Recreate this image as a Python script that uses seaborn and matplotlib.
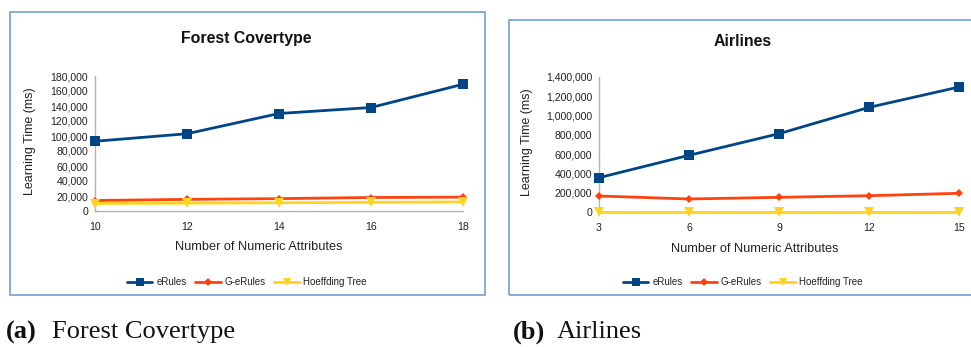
import matplotlib
matplotlib.use("Agg")
import matplotlib.pyplot as plt
import matplotlib.ticker as mticker
from matplotlib.patches import Rectangle
from matplotlib.lines import Line2D
import pandas as pd
import seaborn as sns

# Forest Covertype: learning time (ms) per number of numeric attributes
forest_attrs = [10, 12, 14, 16, 18]
forest_erules = [93000, 103000, 130000, 138000, 169000]
forest_gerules = [14000, 15500, 16500, 18000, 18500]
forest_hoeffding = [10000, 10500, 11000, 11500, 12000]

# Airlines: learning time (ms) per number of numeric attributes
airlines_attrs = [3, 6, 9, 12, 15]
airlines_erules = [356000, 588000, 812000, 1085000, 1296000]
airlines_gerules = [166000, 135000, 152000, 169000, 194000]
airlines_hoeffding = [5000, 5000, 5000, 5000, 5000]

series_names = ["eRules", "G-eRules", "Hoeffding Tree"]
palette = {"eRules": "#004586", "G-eRules": "#ff420e", "Hoeffding Tree": "#ffd320"}
markers = {"eRules": "s", "G-eRules": "D", "Hoeffding Tree": "v"}
marker_sizes = {"eRules": 7, "G-eRules": 4.5, "Hoeffding Tree": 7}

sns.set_theme(style="white")
plt.rcParams["font.family"] = ["Liberation Sans", "DejaVu Sans"]

W, H = 971, 347
fig = plt.figure(figsize=(W / 100, H / 100), dpi=100)


def fx(px):
    return px / W


def fy(py):
    return 1 - py / H


def panel_frame(x0, y0, x1, y1):
    fig.patches.append(Rectangle((fx(x0), fy(y1)), fx(x1) - fx(x0), fy(y0) - fy(y1),
                                 transform=fig.transFigure, fill=False,
                                 edgecolor="#729fcf", linewidth=1.2, zorder=0))


def to_long(attrs, values):
    rows = []
    for name, vals in zip(series_names, values):
        for a, v in zip(attrs, vals):
            rows.append({"attrs": a, "time": v, "series": name})
    return pd.DataFrame(rows)


def draw_panel(rect, attrs, values, ymax, ystep, title, title_xy, ylab_x, xlab_xy, leg_xy):
    x0, y0, x1, y1 = rect
    ax = fig.add_axes([fx(x0), fy(y1), fx(x1) - fx(x0), fy(y0) - fy(y1)])
    df = to_long(attrs, values)
    for name in series_names:
        sub = df[df["series"] == name]
        sns.lineplot(data=sub, x="attrs", y="time", ax=ax, color=palette[name],
                     marker=markers[name], markersize=marker_sizes[name],
                     markeredgewidth=0, linewidth=2, legend=False,
                     clip_on=False, zorder=3)
    ax.set_xlim(attrs[0], attrs[-1])
    ax.set_ylim(0, ymax)
    ax.set_xticks(attrs)
    ax.yaxis.set_major_locator(mticker.MultipleLocator(ystep))
    ax.yaxis.set_major_formatter(mticker.StrMethodFormatter("{x:,.0f}"))
    for s in ["top", "right"]:
        ax.spines[s].set_visible(False)
    for s in ["left", "bottom"]:
        ax.spines[s].set_color("#b3b3b3")
        ax.spines[s].set_linewidth(1)
        ax.spines[s].set_zorder(1)
    ax.tick_params(axis="both", which="major", direction="out", length=3, width=0.8,
                   color="#b3b3b3", labelsize=7.6, labelcolor="#222222", pad=2)
    ax.tick_params(axis="x", pad=5)
    ax.set_xlabel("")
    ax.set_ylabel("")
    ax.set_facecolor("none")
    fig.text(fx(title_xy[0]), fy(title_xy[1]), title, ha="center", va="center",
             fontsize=11.4, fontweight="bold", color="#111111")
    fig.text(fx(ylab_x), fy((y0 + y1) / 2 - 2), "Learning Time (ms)", rotation=90,
             ha="center", va="center", fontsize=9, color="#222222")
    fig.text(fx(xlab_xy[0]), fy(xlab_xy[1]), "Number of Numeric Attributes",
             ha="center", va="center", fontsize=9.2, color="#222222")
    # Legend keys: line with a smaller marker in the middle
    handles = [Line2D([], [], color=palette[n], marker=markers[n],
                      markersize=marker_sizes[n] * 0.8, markeredgewidth=0, linewidth=2)
               for n in series_names]
    fig.legend(handles, series_names, loc="center",
               bbox_to_anchor=(fx(leg_xy[0]), fy(leg_xy[1])),
               ncol=3, frameon=False, fontsize=7, handlelength=2.6, handletextpad=0.4,
               columnspacing=0.9, labelcolor="#222222")
    return ax


panel_frame(9.5, 12, 485, 295)
panel_frame(509, 20, 985, 295)

draw_panel((95, 76, 463, 211), forest_attrs,
           [forest_erules, forest_gerules, forest_hoeffding],
           180000, 20000, "Forest Covertype", (246, 39), 30, (259, 247), (247, 282))
draw_panel((599, 77, 959, 212), airlines_attrs,
           [airlines_erules, airlines_gerules, airlines_hoeffding],
           1400000, 200000, "Airlines", (743, 41), 527, (755, 249), (743, 282))

# Sub-figure captions
cap_font = ["Liberation Serif", "DejaVu Serif"]
fig.text(fx(6), fy(332), "(a)", ha="left", va="center", fontsize=19,
         fontweight="bold", family=cap_font, color="#111111")
fig.text(fx(52), fy(332), "Forest Covertype", ha="left", va="center", fontsize=19,
         family=cap_font, color="#111111")
fig.text(fx(513), fy(332), "(b)", ha="left", va="center", fontsize=19,
         fontweight="bold", family=cap_font, color="#111111")
fig.text(fx(557), fy(332), "Airlines", ha="left", va="center", fontsize=19,
         family=cap_font, color="#111111")

fig.savefig("out.png", dpi=100, facecolor="white")
